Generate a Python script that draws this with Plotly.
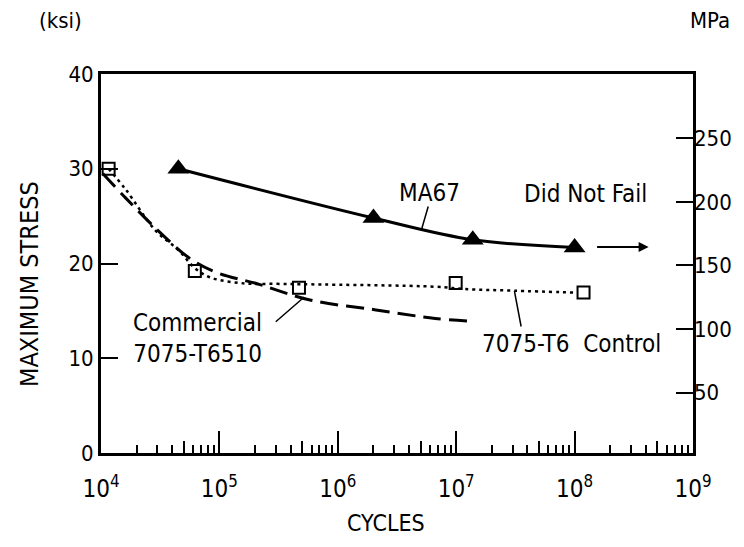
import plotly.graph_objects as go

# ---------------- data ----------------
ma67_cycles = [4.5e4, 2.0e6, 1.38e7, 1.0e8]
ma67_stress = [30.0, 24.8, 22.5, 21.7]

control_cycles = [1.16e4, 6.2e4, 4.7e5, 9.9e6, 1.19e8]
control_stress = [30.0, 19.2, 17.45, 17.95, 16.95]

control_fit_cycles = [1.16e4, 1.62e4, 2.88e4, 4.52e4, 6.22e4, 8.51e4, 1.63e5,
                      3.08e5, 5.81e5, 6.65e6, 1.18e7, 3.09e7, 1.04e8]
control_fit_stress = [30.0, 27.8, 23.5, 21.4, 19.5, 18.5, 17.9,
                      17.85, 17.8, 17.55, 17.3, 17.13, 16.92]

commercial_cycles = [1.035e4, 1.62e4, 3.08e4, 5.83e4, 9.72e4, 2.10e5,
                     5.83e5, 2.10e6, 6.65e6, 1.25e7]
commercial_stress = [29.5, 26.9, 23.4, 20.4, 19.0, 17.85,
                     16.15, 15.1, 14.2, 13.93]

x_tickvals = [1e4, 1e5, 1e6, 1e7, 1e8, 1e9]
x_ticktext = ["10<sup>4</sup>", "10<sup>5</sup>", "10<sup>6</sup>",
              "10<sup>7</sup>", "10<sup>8</sup>", "10<sup>9</sup>"]
x_minor_vals = [m * 10 ** e for e in range(4, 9) for m in (2, 3, 4, 6, 7, 8, 9)]
x_five_vals = [5 * 10 ** e for e in range(4, 9)]
ksi_ticks = [0, 10, 20, 30, 40]
mpa_ticks = [50, 100, 150, 200, 250]
mpa_ticktext = ["50", "100", "150", "200", "250"]

# ---------------- layout geometry ----------------
W, H = 744, 547
L, R, T, B = 101, 43, 74, 94
FONT = "DejaVu Sans Condensed, Liberation Sans Narrow, sans-serif"
FS = 22
AFS = 24


def paper(xp, yp):
    return (xp - L) / (W - L - R), (H - B - yp) / (H - T - B)


fig = go.Figure()

fig.add_trace(go.Scatter(
    x=commercial_cycles, y=commercial_stress, mode="lines",
    line=dict(color="black", width=3, dash="18px,8px", shape="spline"),
    showlegend=False))
fig.add_trace(go.Scatter(
    x=control_fit_cycles, y=control_fit_stress, mode="lines",
    line=dict(color="black", width=2.5, dash="3px,4px", shape="spline"),
    showlegend=False))
fig.add_trace(go.Scatter(
    x=control_cycles, y=control_stress, mode="markers",
    marker=dict(symbol="square-open", size=12, color="black",
                line=dict(width=2, color="black")),
    showlegend=False))
fig.add_trace(go.Scatter(
    x=ma67_cycles, y=ma67_stress, mode="lines+markers",
    line=dict(color="black", width=3, shape="spline"),
    marker=dict(symbol="triangle-up", size=19, color="black"),
    showlegend=False))
# invisible traces that carry the secondary axes
fig.add_trace(go.Scatter(x=[1e4], y=[0], xaxis="x2", yaxis="y",
                         mode="markers", marker=dict(opacity=0),
                         showlegend=False, hoverinfo="skip"))
fig.add_trace(go.Scatter(x=[1e4], y=[0], xaxis="x", yaxis="y2",
                         mode="markers", marker=dict(opacity=0),
                         showlegend=False, hoverinfo="skip"))

fig.update_layout(
    width=W, height=H,
    margin=dict(l=L, r=R, t=T, b=B, pad=0),
    paper_bgcolor="white", plot_bgcolor="white",
    font=dict(family=FONT, size=FS, color="black"),
    xaxis=dict(type="log", range=[4, 9], tickvals=x_tickvals, ticktext=x_ticktext,
               ticks="inside", ticklen=22, tickwidth=2, tickcolor="black",
               showline=True, linewidth=3, linecolor="black", mirror=True,
               showgrid=False, zeroline=False, ticklabelstandoff=12,
               tickfont=dict(family=FONT, size=24),
               minor=dict(tickvals=x_minor_vals, ticks="inside", ticklen=8,
                          tickwidth=2, tickcolor="black", showgrid=False)),
    xaxis2=dict(type="log", range=[4, 9], overlaying="x", side="bottom",
                tickvals=x_five_vals, ticks="inside", ticklen=12, tickwidth=2,
                tickcolor="black", showticklabels=False, showline=False,
                showgrid=False, zeroline=False, anchor="y"),
    yaxis=dict(range=[0, 40], tickvals=ksi_ticks, ticks="inside", ticklen=17,
               tickwidth=2, tickcolor="black", showline=True, linewidth=3,
               linecolor="black", mirror=True, showgrid=False, zeroline=False,
               tickfont=dict(family=FONT, size=FS)),
    yaxis2=dict(range=[2.6, 300.5], overlaying="y", side="right",
                tickvals=mpa_ticks, ticktext=mpa_ticktext, ticks="inside",
                ticklen=17, tickwidth=2, tickcolor="black", showline=False,
                showgrid=False, zeroline=False,
                tickfont=dict(family=FONT, size=FS), anchor="x"),
)

ann = []


def text_at(txt, xp, yp, angle=0, size=AFS, xanchor="center"):
    px_, py_ = paper(xp, yp)
    ann.append(dict(text=txt, x=px_, y=py_, xref="paper", yref="paper",
                    showarrow=False, xanchor=xanchor, yanchor="middle",
                    textangle=angle, font=dict(family=FONT, size=size)))


def pointer(hx, hy, tx, ty, head=0, width=1.5):
    hpx, hpy = paper(hx, hy)
    ann.append(dict(text="", x=hpx, y=hpy, xref="paper", yref="paper",
                    ax=tx - hx, ay=ty - hy, axref="pixel", ayref="pixel",
                    showarrow=True, arrowhead=head, arrowwidth=width,
                    arrowcolor="black", standoff=0, startstandoff=0))


text_at("(ksi)", 60, 21, size=22)
text_at("MPa", 741, 21, size=22, xanchor="right")
text_at("MAXIMUM STRESS", 28, 284, angle=-90, size=25)
text_at("CYCLES", 390, 523, size=23)
text_at("MA67", 434, 193)
text_at("Did Not Fail", 592, 194)
text_at("Commercial<br>7075-T6510", 199, 338)
text_at("7075-T6  Control", 578, 344)

pointer(426, 229, 433, 205)
pointer(307, 297, 277, 323)
pointer(520, 291, 527, 328)
pointer(656, 247, 603, 247, head=2, width=2)

fig.update_layout(annotations=ann)
fig.write_html("out.html",
               config={"displayModeBar": False},
               post_script="document.body.style.margin='0';"
                           "document.body.style.overflow='hidden';")
